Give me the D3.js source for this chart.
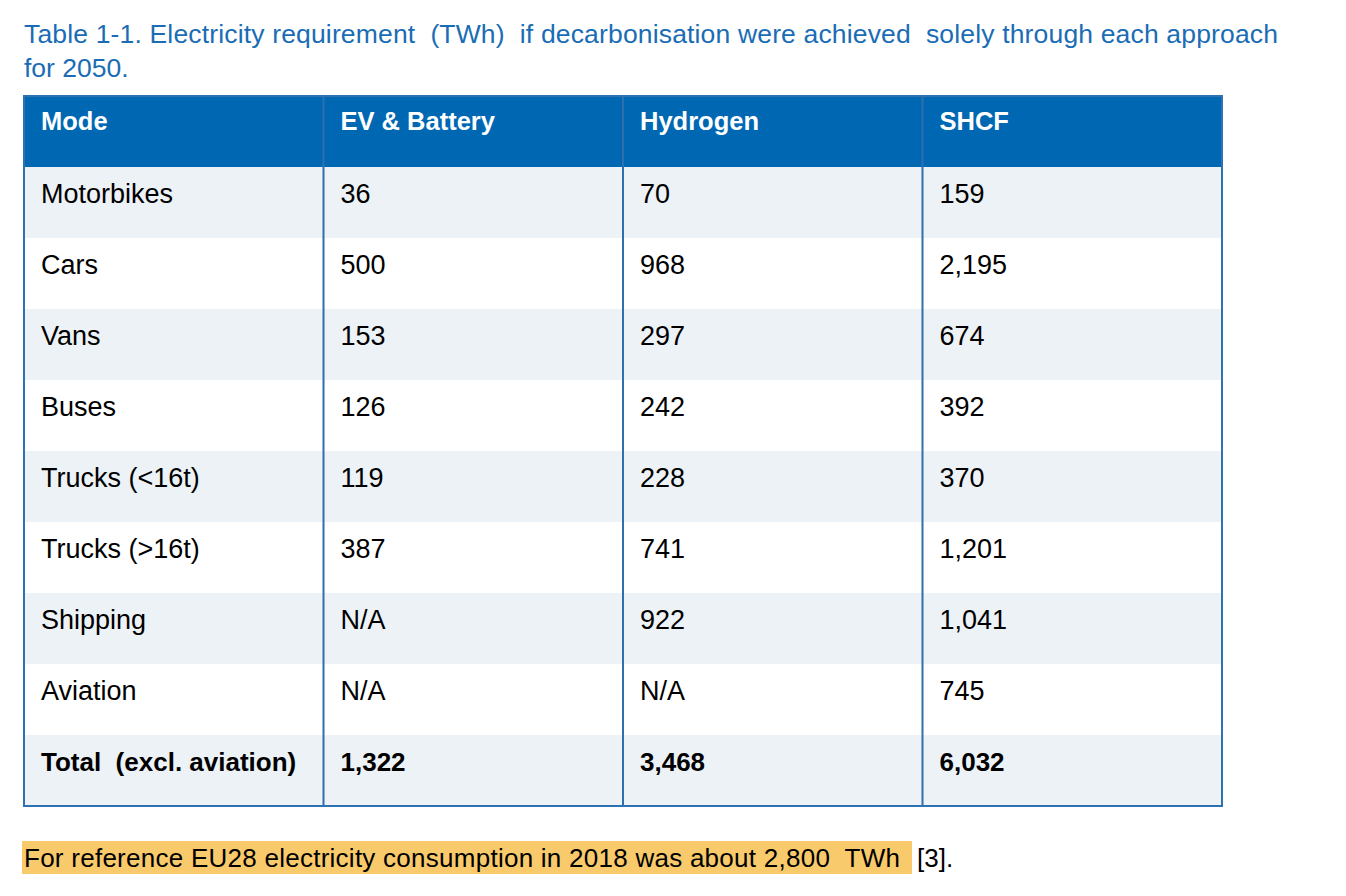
<!DOCTYPE html>
<html>
<head>
<meta charset="utf-8">
<script src="https://cdnjs.cloudflare.com/ajax/libs/d3/7.8.5/d3.min.js"></script>
<style>
  body { margin: 0; background: #fff; }
  svg { font-family: "Liberation Sans", Arial, sans-serif; }
</style>
</head>
<body>
<svg id="chart" width="1346" height="896"></svg>
<script>
// table content
var columns = ["Mode", "EV & Battery", "Hydrogen", "SHCF"];
var modes = ["Motorbikes", "Cars", "Vans", "Buses", "Trucks (<16t)", "Trucks (>16t)", "Shipping", "Aviation"];
var evBattery = [36, 500, 153, 126, 119, 387, null, null];
var hydrogen = [70, 968, 297, 242, 228, 741, 922, null];
var shcf = [159, 2195, 674, 392, 370, 1201, 1041, 745];
var totalLabel = "Total  (excl. aviation)";
var totals = [1322, 3468, 6032];

var titleLines = ["Table 1-1. Electricity requirement  (TWh)  if decarbonisation were achieved  solely through each approach",
                  "for 2050."];
var noteText = "For reference EU28 electricity consumption in 2018 was about 2,800  TWh";
var noteRef = "[3].";

var fmt = d3.format(",");
function cell(v) { return v === null ? "N/A" : fmt(v); }

// build rows from the arrays
var rows = modes.map(function (m, i) {
    return { cells: [m, cell(evBattery[i]), cell(hydrogen[i]), cell(shcf[i])], bold: false };
});
rows.push({ cells: [totalLabel].concat(totals.map(cell)), bold: true });

var svg = d3.select("#chart");

var x = d3.scaleBand()
    .domain(columns)
    .range([24, 1222]);

var y = d3.scaleBand()
    .domain(d3.range(rows.length + 1))
    .range([96, 806]);

// title
svg.append("text")
    .attr("x", 24).attr("y", 43)
    .attr("fill", "#1a6db5")
    .attr("font-size", 26.5)
    .attr("textLength", 1254)
    .attr("lengthAdjust", "spacing")
    .style("white-space", "pre")
    .text(titleLines[0]);
svg.append("text")
    .attr("x", 24).attr("y", 77)
    .attr("fill", "#1a6db5")
    .attr("font-size", 26.5)
    .text(titleLines[1]);

// header
svg.append("rect")
    .attr("x", x.range()[0]).attr("y", y(0))
    .attr("width", x.range()[1] - x.range()[0])
    .attr("height", y.bandwidth())
    .attr("fill", "#0068b3");

svg.append("g").selectAll("text")
    .data(columns)
    .enter()
    .append("text")
    .attr("x", function (d) { return x(d) + 17; })
    .attr("y", y(0) + 34)
    .attr("fill", "#fff")
    .attr("font-size", 25.5)
    .attr("font-weight", "bold")
    .text(function (d) { return d; });

// body rows
var r = svg.append("g").selectAll("g")
    .data(rows)
    .enter()
    .append("g")
    .attr("transform", function (d, i) { return "translate(0," + y(i + 1) + ")"; });

r.append("rect")
    .attr("x", x.range()[0])
    .attr("width", x.range()[1] - x.range()[0])
    .attr("height", y.bandwidth())
    .attr("fill", function (d, i) { return i % 2 === 0 ? "#edf2f7" : "#ffffff"; });

r.selectAll("text")
    .data(function (d) { return d.cells.map(function (c) { return { text: c, bold: d.bold }; }); })
    .enter()
    .append("text")
    .attr("x", function (d, j) { return x(columns[j]) + 17; })
    .attr("y", 36)
    .attr("fill", "#000")
    .attr("font-size", function (d) { return d.bold ? 26 : 27; })
    .attr("font-weight", function (d) { return d.bold ? "bold" : "normal"; })
    .style("white-space", "pre")
    .text(function (d) { return d.text; });

// column lines and outer border
svg.append("g").selectAll("line")
    .data(columns.slice(1))
    .enter()
    .append("line")
    .attr("x1", function (d) { return x(d); })
    .attr("x2", function (d) { return x(d); })
    .attr("y1", y(0)).attr("y2", y.range()[1])
    .attr("stroke", "#2f6fad")
    .attr("stroke-width", 2);

svg.append("rect")
    .attr("x", x.range()[0]).attr("y", y.range()[0])
    .attr("width", x.range()[1] - x.range()[0])
    .attr("height", y.range()[1] - y.range()[0])
    .attr("fill", "none")
    .attr("stroke", "#2f72b3")
    .attr("stroke-width", 2);

// footnote with highlight
svg.append("rect")
    .attr("x", 22).attr("y", 841)
    .attr("width", 890).attr("height", 33)
    .attr("fill", "#f9ca6b");

svg.append("text")
    .attr("x", 24).attr("y", 867)
    .attr("fill", "#000")
    .attr("font-size", 26)
    .attr("textLength", 876)
    .attr("lengthAdjust", "spacing")
    .style("white-space", "pre")
    .text(noteText);

svg.append("text")
    .attr("x", 917).attr("y", 867)
    .attr("fill", "#000")
    .attr("font-size", 26)
    .text(noteRef);
</script>
</body>
</html>
